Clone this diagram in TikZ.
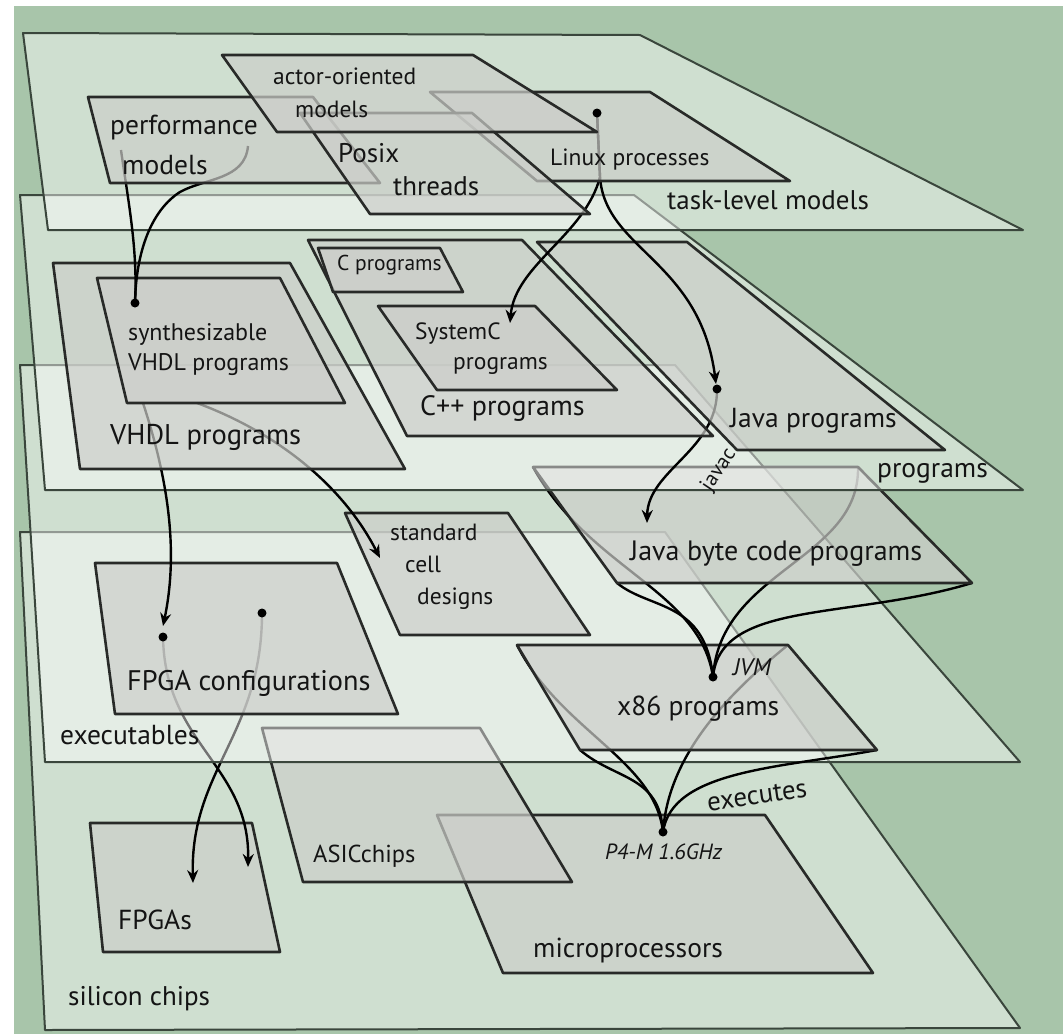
\documentclass[tikz,border=0pt]{standalone}
\usepackage{fontspec}
\setmainfont{PT Sans}
\usetikzlibrary{arrows.meta}
\definecolor{bggreen}{RGB}{168,197,170}
\definecolor{planeline}{RGB}{58,70,60}
\definecolor{boxline}{RGB}{40,42,40}
\definecolor{boxfill}{RGB}{204,206,202}
\definecolor{txt}{RGB}{20,20,20}
\newcommand\myfs[1]{\fontsize{#1}{#1}\selectfont}
\begin{document}
\begin{tikzpicture}[x=1pt,y=-1pt,
  plane/.style={draw=planeline, line width=2pt, fill=white, fill opacity=0.45, line join=round},
  box/.style={draw=boxline, line width=2.6pt, fill=boxfill, fill opacity=0.7, line join=round},
  conn/.style={draw=black, line width=2.4pt},
  arrowend/.style={-{Stealth[length=13pt,width=11pt]}},
  lab/.style={inner sep=0pt, anchor=mid west, text=txt},
  dotmark/.style={fill=black}]
\useasboundingbox (0,0) rectangle (1063,1034);
\fill[white] (0,0) rectangle (1063,1034);
\fill[bggreen] (14,6) rectangle (1063,1034);

% ---------------- silicon chips plane
\path[plane] (20,532) -- (665,532) -- (1020,1028) -- (45,1030) -- cycle;
\path[box] (437,815) -- (765,815) -- (873,973) -- (503,973) -- cycle;
\path[box] (262,728) -- (480,728) -- (572,882) -- (303,882) -- cycle;
\path[box] (90,823) -- (252,823) -- (280,952) -- (103,952) -- cycle;

% FPGA configurations -> FPGAs
\coordinate (cfgdotA) at (163,637);
\coordinate (cfgdotB) at (262,613);
\coordinate (fpgasTipA) at (248,867);
\coordinate (fpgasTipB) at (193,883);
\draw[conn,arrowend] (cfgdotA) .. controls (165,745) and (250,765) .. (fpgasTipA);
\draw[conn,arrowend] (cfgdotB) .. controls (262,735) and (190,770) .. (fpgasTipB);

% ---------------- executables plane
\path[plane] (20,365) -- (675,365) -- (1020,762) -- (45,762) -- cycle;

\coordinate (x86TL) at (517,645);
\coordinate (x86TR) at (788,645);
\coordinate (x86BR) at (877,750);
\coordinate (x86BL) at (580,750);
\coordinate (p4dot) at (663,832);
\draw[conn] (x86BL) .. controls (615,780) and (660,775) .. (p4dot);
\draw[conn] (x86TL) .. controls (560,730) and (655,760) .. (p4dot);
\draw[conn] (x86TR) .. controls (720,700) and (668,760) .. (p4dot);
\draw[conn] (x86BR) .. controls (780,768) and (672,770) .. (p4dot);
\fill[dotmark] (p4dot) circle (4.5pt);

\path[box] (345,513) -- (508,513) -- (590,635) -- (400,635) -- cycle;
\path[box] (95,563) -- (337,563) -- (398,714) -- (115,714) -- cycle;
\path[box] (x86TL) -- (x86TR) -- (x86BR) -- (x86BL) -- cycle;
\fill[dotmark] (cfgdotA) circle (4.5pt);
\fill[dotmark] (cfgdotB) circle (4.5pt);

\coordinate (jbcTL) at (533,467);
\coordinate (jbcTR) at (858,467);
\coordinate (jbcBR) at (972,583);
\coordinate (jbcBL) at (617,583);
\coordinate (jvmdot) at (713,677);
\draw[conn] (jbcBL) .. controls (650,610) and (705,600) .. (jvmdot);
\draw[conn] (jbcTL) .. controls (590,570) and (700,590) .. (jvmdot);
\draw[conn] (jbcTR) .. controls (860,560) and (720,570) .. (jvmdot);
\draw[conn] (jbcBR) .. controls (850,620) and (720,600) .. (jvmdot);
\fill[dotmark] (jvmdot) circle (4.5pt);
\path[box] (jbcTL) -- (jbcTR) -- (jbcBR) -- (jbcBL) -- cycle;

% ---------------- programs plane
\path[plane] (20,195) -- (634,195) -- (1023,490) -- (45,490) -- cycle;

\coordinate (javadot) at (717,389);
\coordinate (jbcTip) at (647,523);
\coordinate (synthA) at (143,403);
\coordinate (synthB) at (197,403);
\coordinate (cfgTip) at (163,626);
\coordinate (stdTip) at (380,558);
\draw[conn,arrowend] (javadot) .. controls (718,450) and (648,470) .. (jbcTip);
\draw[conn,arrowend] (synthA) .. controls (165,470) and (180,545) .. (cfgTip);
\draw[conn,arrowend] (synthB) .. controls (270,430) and (340,480) .. (stdTip);

\path[box] (53,263) -- (290,263) -- (405,469) -- (80,469) -- cycle;
\path[box] (97,278) -- (280,278) -- (345,403) -- (127,403) -- cycle;
\path[box] (308,240) -- (522,240) -- (713,436) -- (407,436) -- cycle;
\path[box] (318,248) -- (440,248) -- (463,292) -- (333,292) -- cycle;
\path[box] (378,306) -- (535,306) -- (617,390) -- (437,390) -- cycle;
\path[box] (537,242) -- (687,242) -- (945,450) -- (737,450) -- cycle;

% ---------------- task-level plane
\path[plane] (23,33) -- (640,35) -- (1023,230) -- (48,230) -- cycle;

\coordinate (linuxdot) at (597,113);
\coordinate (linuxsplit) at (600,177);
\coordinate (sysCtip) at (510,323);
\coordinate (javaTip) at (716,384);
\coordinate (perfA) at (121,150);
\coordinate (perfB) at (248,146);
\coordinate (synthdot) at (135,303);
\draw[conn,arrowend] (linuxdot) -- (linuxsplit) .. controls (585,235) and (515,265) .. (sysCtip);
\draw[conn,arrowend] (linuxdot) -- (linuxsplit) .. controls (605,250) and (700,260) .. (javaTip);
\fill[dotmark] (javadot) circle (4.5pt);
\draw[conn] (perfA) .. controls (128,200) and (138,250) .. (synthdot);
\draw[conn] (perfB) .. controls (245,180) and (205,178) .. (180,192) .. controls (152,210) and (136,250) .. (synthdot);
\fill[dotmark] (synthdot) circle (4.5pt);

\path[box] (430,92) -- (650,92) -- (790,181) -- (537,181) -- cycle;
\path[box] (88,97) -- (313,97) -- (380,183) -- (110,183) -- cycle;
\path[box] (300,113) -- (472,113) -- (590,214) -- (370,214) -- cycle;
\path[box] (222,55) -- (473,55) -- (597,132) -- (277,132) -- cycle;
\fill[dotmark] (linuxdot) circle (4.5pt);

% ---------------- labels
\node[lab,font=\myfs{23.5}] (lActor1) at (273,82) {actor-oriented};
\node[lab,font=\myfs{23.5}] (lActor2) at (295,115) {models};
\node[lab,font=\myfs{27.5}] (lPerf1) at (110,132) {performance};
\node[lab,font=\myfs{27.5}] (lPerf2) at (122,172) {models};
\node[lab,font=\myfs{27}] (lPosix1) at (338,160) {Posix};
\node[lab,font=\myfs{27}] (lPosix2) at (393,193) {threads};
\node[lab,font=\myfs{23.5}] (lLinux) at (550,163) {Linux processes};
\node[lab,font=\myfs{27}] (lTask) at (667,207) {task-level models};

\node[lab,font=\myfs{21.5}] (lC) at (337,268) {C programs};
\node[lab,font=\myfs{24}] (lSynth1) at (128,338) {synthesizable};
\node[lab,font=\myfs{24}] (lSynth2) at (128,368) {VHDL programs};
\node[lab,font=\myfs{28.5}] (lVHDL) at (110,442) {VHDL programs};
\node[lab,font=\myfs{23.5}] (lSysC1) at (415,337) {SystemC};
\node[lab,font=\myfs{23.5}] (lSysC2) at (453,367) {programs};
\node[lab,font=\myfs{28}] (lCpp) at (420,413) {C++ programs};
\node[lab,font=\myfs{27.5}] (lJava) at (730,425) {Java programs};
\node[lab,font=\myfs{27.5}] (lProg) at (877,475) {programs};
\node[inner sep=0pt,text=txt,font=\myfs{21},rotate=56] (lJavac) at (719,470) {javac};

\node[lab,font=\myfs{28}] (lJBC) at (630,558) {Java byte code programs};
\node[lab,font=\myfs{23.5}] (lStd1) at (390,538) {standard};
\node[lab,font=\myfs{23.5}] (lStd2) at (405,570) {cell};
\node[lab,font=\myfs{23.5}] (lStd3) at (417,602) {designs};
\node[lab,font=\myfs{28.3}] (lCfg) at (127,688) {FPGA configurations};
\node[lab,font=\myfs{27.5}] (lExec) at (60,742) {executables};
\node[lab,font=\myfs{24}\itshape] (lJVM) at (733,673) {JVM};
\node[lab,font=\myfs{27.5}] (lX86) at (617,713) {x86 programs};
\node[inner sep=0pt,text=txt,font=\myfs{27},rotate=8] (lExecutes) at (757,796) {executes};

\node[lab,font=\myfs{24.5}] (lASIC) at (313,860) {ASICchips};
\node[lab,font=\myfs{27.5}] (lFPGAs) at (118,927) {FPGAs};
\node[lab,font=\myfs{22}\itshape] (lP4) at (605,857) {P4-M 1.6GHz};
\node[lab,font=\myfs{27.5}] (lMicro) at (533,955) {microprocessors};
\node[lab,font=\myfs{27}] (lSil) at (68,1003) {silicon chips};
\end{tikzpicture}
\end{document}
